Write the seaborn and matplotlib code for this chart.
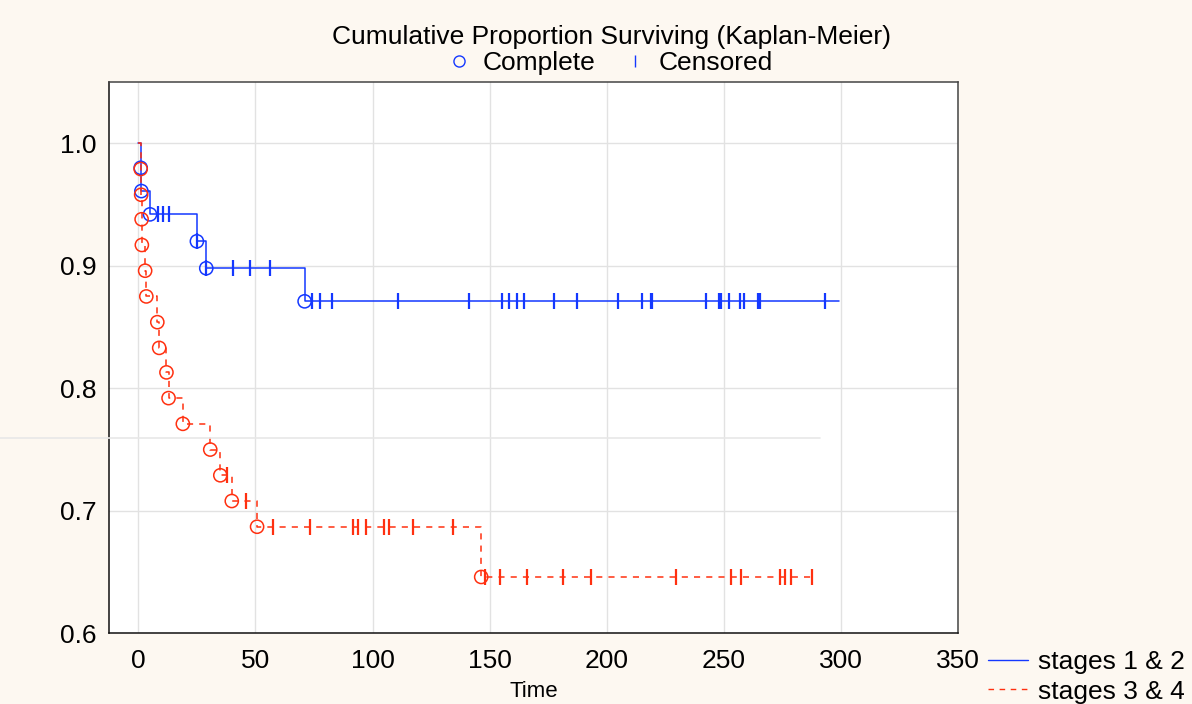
#%% libs
import matplotlib
matplotlib.use("Agg")
import matplotlib.pyplot as plt
from matplotlib.lines import Line2D
import seaborn as sns

#%% data
# stages 1 & 2
blue_step_t = [0, 1, 1.3, 5, 25, 29, 71, 299]
blue_step_s = [1.0, 0.980, 0.961, 0.942, 0.920, 0.898, 0.871, 0.871]
blue_event_t = [1, 1.3, 5, 25, 29, 71]
blue_event_s = [0.980, 0.961, 0.942, 0.920, 0.898, 0.871]
blue_cens_t = [8.3, 10.4, 13.3, 25, 29, 40.4, 47.6, 56.1,
               74.2, 77.7, 82.6, 110.9, 141.0, 155.3, 158.4, 161.9, 164.5,
               177.4, 187.4, 205.0, 215.0, 218.8, 219.5, 242.5, 247.8, 248.6,
               252.4, 257.0, 258.6, 264.7, 265.5, 293.0]
blue_cens_s = [0.942, 0.942, 0.942, 0.920, 0.898, 0.898, 0.898, 0.898] + [0.871] * 24

# stages 3 & 4
red_step_t = [0, 1, 1.2, 1.4, 1.5, 2.9, 3.4, 8.1, 8.9, 12, 12.9, 19, 30.7,
              35, 39.9, 50.7, 146.4, 287.5]
red_step_s = [1.0, 0.979, 0.958, 0.938, 0.917, 0.896, 0.875, 0.854, 0.833,
              0.813, 0.792, 0.771, 0.750, 0.729, 0.708, 0.687, 0.646, 0.646]
red_event_t = red_step_t[1:-1]
red_event_s = red_step_s[1:-1]
red_cens_t = [38, 46.1, 57.3, 73.3, 91.6, 94, 97, 104.7, 107.2, 117.3, 134.4,
              148.2, 154.4, 165.8, 181.5, 193.2, 229.6, 253.2, 257.5, 273.9,
              276, 278.6, 287.5]
red_cens_s = [0.729, 0.708] + [0.687] * 9 + [0.646] * 12

x_ticks = [0, 50, 100, 150, 200, 250, 300, 350]
y_ticks = [0.6, 0.7, 0.8, 0.9, 1.0]
title = "Cumulative Proportion Surviving (Kaplan-Meier)"
group_labels = ["stages 1 & 2", "stages 3 & 4"]

#%% style
sns.set_style("white")
plt.rcParams['font.family'] = ['Liberation Sans', 'DejaVu Sans']
plt.rcParams['text.color'] = 'black'
plt.rcParams['xtick.color'] = 'black'
plt.rcParams['ytick.color'] = 'black'
plt.rcParams['axes.labelcolor'] = 'black'

blue = '#1438ff'
red = '#ff3010'
bg = '#fdf8f1'

fig = plt.figure(figsize=(11.92, 7.04), dpi=100, facecolor=bg)
ax = fig.add_axes([0.0917, 0.1004, 0.712, 0.7827])
ax.set_facecolor('white')

#%% curves
sns.lineplot(x=blue_step_t, y=blue_step_s, ax=ax, color=blue, lw=1.1,
             drawstyle='steps-post', estimator=None, sort=False, zorder=3)
sns.lineplot(x=red_step_t, y=red_step_s, ax=ax, color=red, lw=1.1,
             linestyle=(0, (4, 4)), drawstyle='steps-post', estimator=None,
             sort=False, zorder=3)

sns.scatterplot(x=blue_event_t, y=blue_event_s, ax=ax, marker='o', s=90,
                facecolor='none', edgecolor=blue, linewidth=1.1, zorder=4)
sns.scatterplot(x=red_event_t, y=red_event_s, ax=ax, marker='o', s=90,
                facecolor='none', edgecolor=red, linewidth=1.1, zorder=4)
sns.scatterplot(x=blue_cens_t, y=blue_cens_s, ax=ax, marker='|', s=130,
                color=blue, linewidth=1.6, zorder=4)
sns.scatterplot(x=red_cens_t, y=red_cens_s, ax=ax, marker='|', s=130,
                color=red, linewidth=1.6, zorder=4)

#%% axes
ax.set_xlim(-12.4, 350)
ax.set_ylim(0.6, 1.0498)
ax.set_xticks(x_ticks)
ax.set_yticks(y_ticks)
ax.set_yticklabels([f"{v:.1f}" for v in y_ticks])
ax.grid(True, color='#e2e2e2', lw=1)
ax.set_axisbelow(True)
ax.tick_params(direction='in', length=4, width=1.2, color='#333333',
               labelsize=19)
ax.tick_params(axis='x', pad=11)
ax.tick_params(axis='y', pad=9)
for side, sp in ax.spines.items():
    sp.set_visible(True)
    sp.set_color('#111111' if side in ('left', 'bottom') else '#444444')
    sp.set_linewidth(1.1)
ax.set_xlabel("Time", fontsize=16, labelpad=6)
ax.set_ylabel("")

# title and marker legend above the plot
fig.text(0.513, 0.947, title, ha='center', va='center', fontsize=19)
top_handles = [
    Line2D([], [], ls='none', marker='o', ms=8, mfc='none', mec=blue, mew=1),
    Line2D([], [], ls='none', marker='|', ms=8, color=blue, mew=1),
]
ax.legend(top_handles, ["Complete", "Censored"], ncol=2, frameon=False,
          loc='center', bbox_to_anchor=(0.592, 1.035), fontsize=19,
          handlelength=0.6, handletextpad=0.6, columnspacing=1.2,
          borderaxespad=0, borderpad=0)

# group legend bottom right
grp_handles = [
    Line2D([], [], color=blue, lw=1),
    Line2D([], [], color=red, lw=1, ls=(0, (4, 4))),
]
fig.legend(grp_handles, group_labels, loc='upper left',
           bbox_to_anchor=(0.829, 0.077), frameon=False, fontsize=19,
           handlelength=1.5, handletextpad=0.4, labelspacing=0.22,
           borderaxespad=0, borderpad=0)

# faint stray line across the left of the picture
fig.add_artist(Line2D([0.0, 0.688], [0.378, 0.378], transform=fig.transFigure,
                      color='#e8e8e8', lw=1.2, zorder=1))

fig.savefig("out.png", dpi=100, facecolor=bg)
